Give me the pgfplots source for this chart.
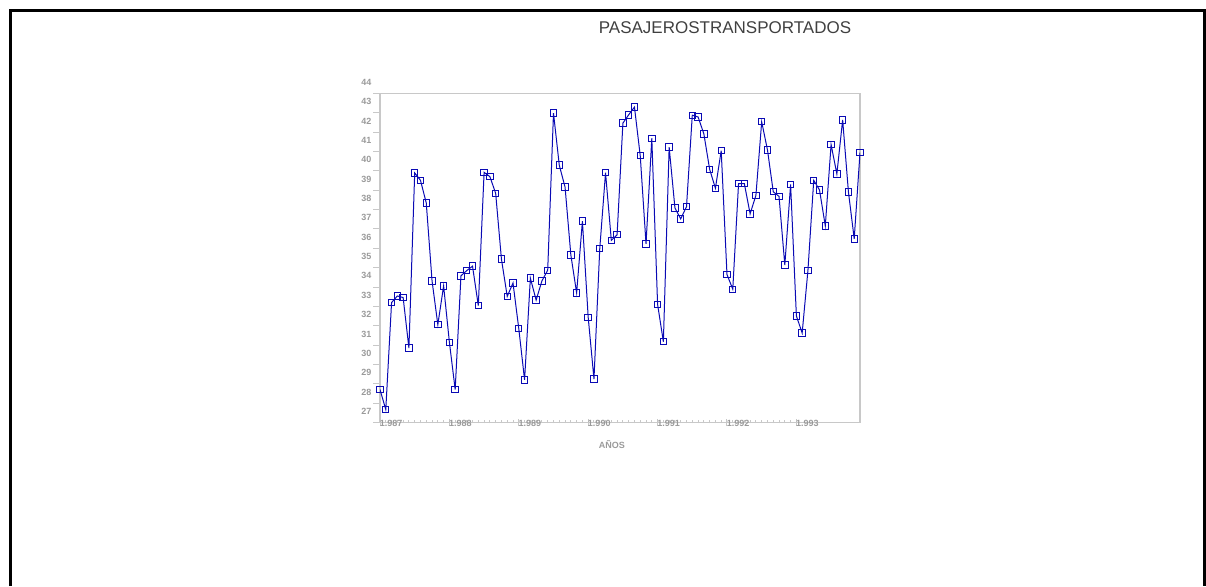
\documentclass[border=0pt]{standalone}
\usepackage{pgfplots}
\pgfplotsset{compat=1.18}
\usepackage{fontspec}
\setmainfont{Liberation Sans}
\definecolor{axgray}{HTML}{C8C8C8}
\definecolor{lblgray}{HTML}{9A9A9A}
\definecolor{lineblue}{HTML}{0A0AB4}
\pgfplotstableread{
x y
0 28.13
1 27.10
2 32.62
3 32.96
4 32.88
5 30.27
6 39.31
7 38.93
8 37.76
9 33.74
10 31.48
11 33.48
12 30.57
13 28.13
14 34.00
15 34.27
16 34.50
17 32.46
18 39.34
19 39.12
20 38.26
21 34.86
22 32.94
23 33.63
24 31.27
25 28.63
26 33.88
27 32.75
28 33.74
29 34.29
30 42.40
31 39.71
32 38.58
33 35.08
34 33.12
35 36.82
36 31.86
37 28.67
38 35.41
39 39.32
40 35.83
41 36.12
42 41.88
43 42.31
44 42.71
45 40.20
46 35.65
47 41.10
48 32.53
49 30.60
50 40.64
51 37.50
52 36.94
53 37.57
54 42.29
55 42.20
56 41.33
57 39.50
58 38.52
59 40.46
60 34.07
61 33.31
62 38.76
63 38.76
64 37.20
65 38.15
66 41.95
67 40.50
68 38.34
69 38.10
70 34.55
71 38.72
72 31.93
73 31.05
74 34.29
75 38.93
76 38.43
77 36.58
78 40.77
79 39.26
80 42.05
81 38.33
82 35.91
83 40.36
}\datatable
\begin{document}
\begin{tikzpicture}
\path[use as bounding box] (0,0) rectangle (603pt,293pt);
\draw[line width=1.5pt] (5pt,0) -- (5pt,288pt) -- (602pt,288pt) -- (602pt,0);
\node[font=\fontsize{8.5}{10}\selectfont, text=black!75] at (362.5pt,279pt) {PASAJEROSTRANSPORTADOS};
\begin{axis}[
  at={(190pt,81.65pt)}, anchor=south west,
  scale only axis, width=240pt, height=164.7pt,
  xmin=0, xmax=83, ymin=26.42, ymax=43.42,
  axis line style={axgray, line width=0.6pt},
  tick style={axgray, line width=0.5pt},
  tick align=outside,
  major tick length=3.5pt, minor tick length=1.5pt,
  xtick={0,12,24,36,48,60,72},
  xticklabels={1.987,1.988,1.989,1.990,1.991,1.992,1.993},
  minor x tick num=11,
  major x tick style={yshift=1.75pt},
  minor x tick style={yshift=1.2pt},
  ytick={26.42,27.42,...,43.5},
  yticklabels={27,28,29,30,31,32,33,34,35,36,37,38,39,40,41,42,43,44},
  xtick pos=bottom, ytick pos=left,
  /pgf/number format/assume math mode=true,
  ticklabel style={font=\fontsize{4.5}{5}\selectfont\bfseries, text=lblgray},
  xticklabel style={anchor=west, inner sep=0.3pt, yshift=3pt, xshift=-0.6pt},
  yticklabel style={yshift=5.6pt, inner sep=0.6pt},
  xlabel={AÑOS},
  xlabel style={at={(rel axis cs:0.483,-0.0668)}, anchor=center, font=\fontsize{4.5}{5}\selectfont\bfseries, text=lblgray},
]
\addplot[color=lineblue, line width=0.5pt, mark=square, mark size=1.6pt, mark options={solid, line width=0.5pt}] table[x=x,y=y] {\datatable};
\end{axis}
\end{tikzpicture}
\end{document}
